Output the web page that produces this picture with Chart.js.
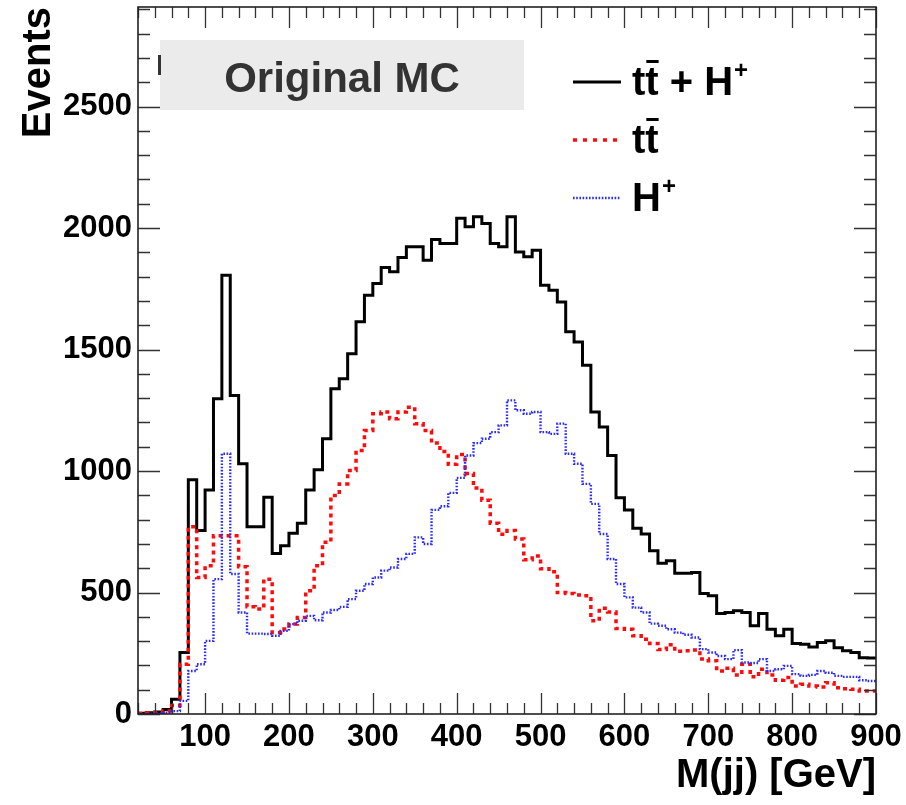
<!DOCTYPE html>
<html>
<head>
<meta charset="utf-8">
<script src="https://cdn.jsdelivr.net/npm/chart.js@4.4.1/dist/chart.umd.min.js"></script>
<style>
  html, body { margin: 0; padding: 0; background: #fff; }
  #wrap { width: 906px; height: 805px; position: relative; }
</style>
</head>
<body>
<div id="wrap"><canvas id="myChart"></canvas></div>
<script>
// histogram bins: 10 GeV wide, first bin starts at 20 GeV
var binStart = 20, binWidth = 10;

// tt + H+
var ttH = [3, 5, 8, 19, 61, 253, 964, 755, 922, 1298,
  1806, 1311, 1030, 771, 771, 892, 661, 693, 744, 785,
  922, 1005, 1133, 1339, 1380, 1483, 1614, 1724, 1772, 1838,
  1820, 1879, 1923, 1923, 1868, 1953, 1937, 1937, 2040, 2005,
  2047, 2019, 1937, 1923, 2047, 1902, 1882, 1909, 1765, 1744,
  1696, 1573, 1531, 1435, 1243, 1181, 1064, 890, 840, 765,
  741, 672, 620, 631, 579, 579, 582, 496, 487, 414,
  418, 425, 418, 363, 414, 349, 322, 349, 290, 287,
  276, 294, 301, 273, 260, 253, 232, 230];

// tt
var tt = [2, 4, 6, 12, 35, 205, 771, 562, 610, 734,
  734, 734, 606, 441, 432, 555, 335, 350, 370, 397,
  507, 610, 707, 899, 947, 1002, 1085, 1167, 1236, 1243,
  1215, 1243, 1263, 1195, 1167, 1115, 1080, 1028, 1068, 990,
  930, 880, 785, 740, 755, 720, 635, 650, 598, 585,
  500, 496, 490, 487, 384, 435, 420, 352, 349, 322,
  308, 290, 265, 285, 258, 260, 263, 226, 219, 177,
  188, 161, 205, 153, 184, 161, 139, 150, 115, 122,
  115, 111, 129, 108, 104, 102, 95, 95];

// H+
var hplus = [0, 1, 2, 5, 12, 54, 177, 205, 301, 555,
  1071, 576, 418, 331, 331, 329, 322, 342, 370, 384,
  404, 386, 418, 428, 441, 473, 507, 535, 562, 590,
  603, 638, 659, 727, 700, 840, 855, 910, 972, 1064,
  1115, 1133, 1160, 1188, 1291, 1250, 1236, 1243, 1160, 1153,
  1195, 1071, 1030, 947, 865, 741, 638, 535, 480, 438,
  418, 372, 363, 349, 335, 326, 315, 267, 253, 239,
  226, 263, 212, 210, 226, 177, 184, 198, 164, 157,
  161, 177, 170, 157, 153, 153, 139, 136];

var xTicks = [100, 200, 300, 400, 500, 600, 700, 800, 900];
var yTicks = [0, 500, 1000, 1500, 2000, 2500];

// points at the lower bin edges, plus the closing edge
function steps(vals) {
  var pts = vals.map(function (v, i) { return {x: binStart + i * binWidth, y: v}; });
  pts.push({x: binStart + vals.length * binWidth, y: vals[vals.length - 1]});
  return pts;
}

var FONT = '"Liberation Sans", Arial, Helvetica, sans-serif';
Chart.defaults.font.family = FONT;

// ROOT style frame with inward ticks on all four sides
var frame = {
  id: 'frame',
  afterDatasetsDraw: function (chart) {
    var ctx = chart.ctx, a = chart.chartArea;
    var xs = chart.scales.x, ys = chart.scales.y;
    ctx.save();
    ctx.strokeStyle = '#333';
    ctx.lineWidth = 1.3;
    ctx.beginPath();
    for (var gx = 20; gx <= 900; gx += 20) {
      var px = Math.round(xs.getPixelForValue(gx)) + 0.5;
      var len = gx % 100 === 0 ? 21 : 11;
      ctx.moveTo(px, a.bottom); ctx.lineTo(px, a.bottom - len);
      ctx.moveTo(px, a.top); ctx.lineTo(px, a.top + len);
    }
    for (var gy = 0; gy <= 2900; gy += 100) {
      var py = Math.round(ys.getPixelForValue(gy)) + 0.5;
      var l2 = gy % 500 === 0 ? 22 : 12;
      ctx.moveTo(a.left, py); ctx.lineTo(a.left + l2, py);
      ctx.moveTo(a.right, py); ctx.lineTo(a.right - l2, py);
    }
    ctx.stroke();
    ctx.strokeStyle = '#222';
    ctx.lineWidth = 1.6;
    ctx.strokeRect(a.left, a.top, a.right - a.left, a.bottom - a.top);
    ctx.restore();
  }
};

// text box and legend
var legendRows = [
  {ds: 0, y: 95, parts: [{t: 't'}, {t: 't', bar: true}, {t: ' + H'}, {t: '+', sup: true}]},
  {ds: 1, y: 153, parts: [{t: 't'}, {t: 't', bar: true}]},
  {ds: 2, y: 211, parts: [{t: 'H'}, {t: '+', sup: true}]}
];

var labels = {
  id: 'labels',
  afterDraw: function (chart) {
    var ctx = chart.ctx;
    ctx.save();
    ctx.fillStyle = '#ebebeb';
    ctx.fillRect(160, 40, 364, 70);
    ctx.fillStyle = '#333';
    ctx.fillRect(158, 55, 3, 20);
    ctx.font = 'bold 42px ' + FONT;
    ctx.textAlign = 'center';
    ctx.textBaseline = 'alphabetic';
    ctx.fillText('Original MC', 342, 92);

    ctx.textAlign = 'left';
    legendRows.forEach(function (row) {
      var ds = chart.data.datasets[row.ds];
      ctx.save();
      ctx.strokeStyle = ds.borderColor;
      ctx.lineWidth = ds.borderWidth;
      ctx.setLineDash(ds.legendDash || []);
      ctx.beginPath();
      ctx.moveTo(573, row.y - 13);
      ctx.lineTo(621, row.y - 13);
      ctx.stroke();
      ctx.restore();

      var x = 632;
      ctx.fillStyle = '#000';
      row.parts.forEach(function (p) {
        if (p.sup) {
          ctx.font = 'bold 24px ' + FONT;
          ctx.fillText(p.t, x + 1, row.y - 17);
          x += ctx.measureText(p.t).width + 1;
        } else {
          ctx.font = 'bold 40px ' + FONT;
          var w = ctx.measureText(p.t).width;
          ctx.fillText(p.t, x, row.y);
          if (p.bar) ctx.fillRect(x + 1, row.y - 35, w - 1, 3);
          x += w;
        }
      });
    });
    ctx.restore();
  }
};

new Chart('myChart', {
  type: 'line',
  data: {
    datasets: [{
      label: 'tt + H+',
      data: steps(ttH),
      borderColor: '#000',
      borderWidth: 3,
      stepped: 'before',
      pointRadius: 0,
      order: 2
    }, {
      label: 'tt',
      data: steps(tt),
      borderColor: '#ff0a0a',
      borderWidth: 3.5,
      borderDash: [4, 4],
      legendDash: [4, 6],
      stepped: 'before',
      pointRadius: 0,
      order: 1
    }, {
      label: 'H+',
      data: steps(hplus),
      borderColor: '#2a2aff',
      borderWidth: 2.4,
      borderDash: [1.6, 1.6],
      legendDash: [1.6, 1.6],
      stepped: 'before',
      pointRadius: 0,
      order: 0
    }]
  },
  options: {
    responsive: true,
    maintainAspectRatio: false,
    animation: false,
    layout: {padding: {left: 0, right: 30, top: 7, bottom: 0}},
    plugins: {legend: {display: false}, tooltip: {enabled: false}},
    scales: {
      x: {
        type: 'linear',
        min: 20,
        max: 900,
        grid: {display: false, drawTicks: false},
        border: {display: false},
        afterBuildTicks: function (axis) { axis.ticks = xTicks.map(function (v) { return {value: v}; }); },
        afterFit: function (axis) {
          axis.height = 91;
          axis.paddingLeft = 0; axis.paddingRight = 0;
        },
        ticks: {font: {size: 31, weight: 'bold'}, color: '#000', padding: 5, maxRotation: 0, autoSkip: false,
          callback: function (v) { return String(v); }},
        title: {display: true, text: 'M(jj) [GeV]', align: 'end', color: '#000',
          font: {size: 40, weight: 'bold', lineHeight: 1.2}, padding: {top: 0, bottom: 5}}
      },
      y: {
        min: 0,
        max: 2910,
        grid: {display: false, drawTicks: false},
        border: {display: false},
        afterBuildTicks: function (axis) { axis.ticks = yTicks.map(function (v) { return {value: v}; }); },
        afterFit: function (axis) {
          axis.width = 138;
          axis.paddingTop = 0; axis.paddingBottom = 0;
        },
        ticks: {font: {size: 31, weight: 'bold'}, color: '#000', padding: 6, autoSkip: false,
          callback: function (v) { return String(v); }},
        title: {display: true, text: 'Events', align: 'end', color: '#000',
          font: {size: 40, weight: 'bold', lineHeight: 1.2}, padding: {top: 15, bottom: 0}}
      }
    }
  },
  plugins: [frame, labels]
});
</script>
</body>
</html>
